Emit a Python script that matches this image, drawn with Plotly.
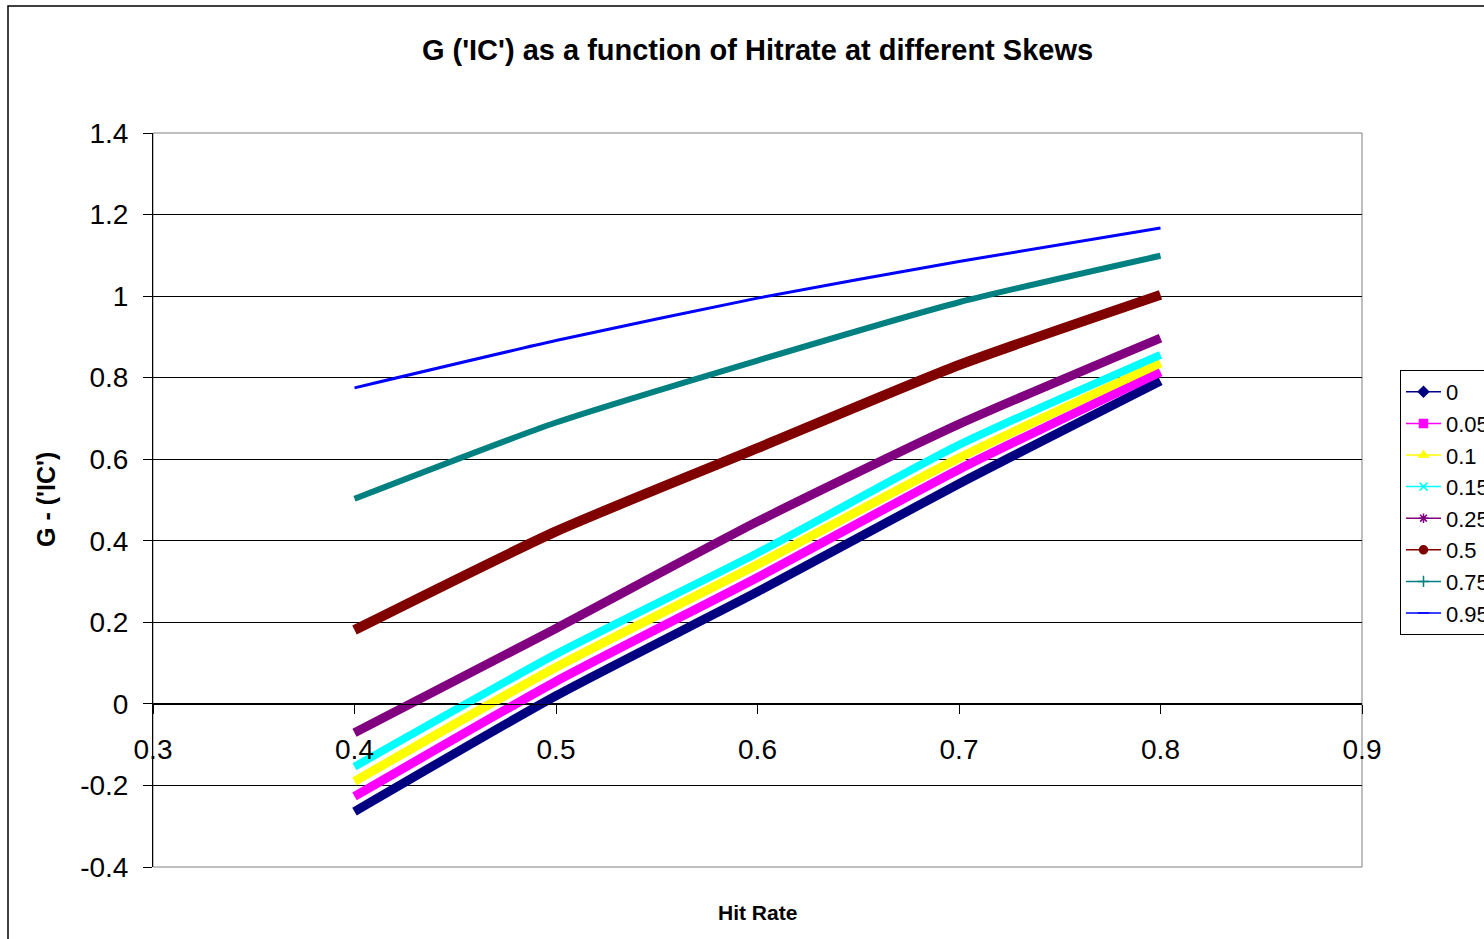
import plotly.graph_objects as go

# Hit rate sample positions (x axis)
hit_rate = [0.4, 0.5, 0.6, 0.7, 0.8]

# Skew series (legend names) and G ('IC') values
skews = ["0", "0.05", "0.1", "0.15", "0.25", "0.5", "0.75", "0.95"]
g_0 = [-0.264, 0.020, 0.275, 0.540, 0.792]
g_005 = [-0.227, 0.055, 0.310, 0.575, 0.814]
g_01 = [-0.190, 0.090, 0.342, 0.603, 0.836]
g_015 = [-0.154, 0.122, 0.370, 0.635, 0.856]
g_025 = [-0.071, 0.185, 0.447, 0.686, 0.897]
g_05 = [0.181, 0.423, 0.627, 0.831, 1.003]
g_075 = [0.503, 0.690, 0.842, 0.985, 1.099]
g_095 = [0.775, 0.891, 0.995, 1.085, 1.167]
series_values = [g_0, g_005, g_01, g_015, g_025, g_05, g_075, g_095]

# Axis ticks
x_ticks = [0.3, 0.4, 0.5, 0.6, 0.7, 0.8, 0.9]
x_tick_labels = ["0.3", "0.4", "0.5", "0.6", "0.7", "0.8", "0.9"]
y_ticks = [-0.4, -0.2, 0, 0.2, 0.4, 0.6, 0.8, 1.0, 1.2, 1.4]
y_tick_labels = ["-0.4", "-0.2", "0", "0.2", "0.4", "0.6", "0.8", "1", "1.2", "1.4"]

# Styles
colors = ["#000080", "#FF00FF", "#FFFF00", "#00FFFF", "#800080", "#800000", "#008080", "#0000FF"]
band_widths = [9, 9, 9, 8, 9, 10, 6, 3]
symbols = ["diamond", "square", "triangle-up", "x-thin-open", "asterisk-open", "circle", "cross-thin-open", "line-ew-open"]

FONT = "Liberation Sans, Arial, sans-serif"

fig = go.Figure()

for name, vals, col, w in zip(skews, series_values, colors, band_widths):
    fig.add_trace(go.Scatter(
        x=hit_rate, y=vals, mode="lines", name=name, showlegend=False,
        line=dict(color=col, width=w, shape="spline", smoothing=0.6),
        hoverinfo="x+y+name",
    ))

# legend entries (thin line + marker, as in the original legend)
for name, col, sym in zip(skews, colors, symbols):
    fig.add_trace(go.Scatter(
        x=[None], y=[None], mode="lines+markers", name=name,
        line=dict(color=col, width=1.5),
        marker=dict(color=col, symbol=sym, size=8, line=dict(color=col, width=1.5)),
    ))

W, H = 1484, 939
L, R, T, B = 153, 122, 133, 72
pw, ph = W - L - R, H - T - B

def px_x(p):
    return (p - L) / pw

def px_y(p):
    return (H - B - p) / ph

fig.update_layout(
    width=W, height=H,
    margin=dict(l=L, r=R, t=T, b=B, autoexpand=False),
    paper_bgcolor="white", plot_bgcolor="white",
    font=dict(family=FONT, color="black"),
    title=dict(text="<b>G ('IC') as a function of Hitrate at different Skews</b>",
               x=0.5, xref="paper", xanchor="center",
               y=1 - 50 / H, yref="container", yanchor="middle",
               font=dict(family=FONT, size=29, color="black")),
    xaxis=dict(range=[0.3, 0.9], tickvals=x_ticks, ticktext=x_tick_labels,
               showgrid=False, zeroline=False,
               showline=True, linecolor="black", linewidth=1,
               ticks="outside", ticklen=9, tickcolor="black", tickwidth=1,
               tickfont=dict(family=FONT, size=28, color="black"),
               ticklabelstandoff=12,
               anchor="free", position=0.4 / 1.8),
    yaxis=dict(range=[-0.4, 1.4], tickvals=y_ticks, ticktext=y_tick_labels,
               showgrid=True, gridcolor="black", gridwidth=1, zeroline=False,
               showline=True, linecolor="black", linewidth=1,
               ticks="outside", ticklen=9, tickcolor="black", tickwidth=1,
               tickfont=dict(family=FONT, size=28, color="black"),
               ticklabelstandoff=9),
    legend=dict(x=px_x(1400), y=px_y(370), xanchor="left", yanchor="top",
                bordercolor="black", borderwidth=1, bgcolor="white",
                font=dict(family=FONT, size=22, color="black"),
                itemwidth=35, tracegroupgap=0),
    shapes=[
        dict(type="rect", xref="paper", yref="paper", x0=0, y0=0, x1=1, y1=1,
             line=dict(color="#808080", width=1), layer="below"),
        dict(type="rect", xref="paper", yref="paper",
             x0=px_x(8), y0=px_y(1200), x1=px_x(1700), y1=px_y(6),
             line=dict(color="black", width=1.5), layer="below"),
    ],
    annotations=[
        dict(text="<b>G - ('IC')</b>", xref="paper", yref="paper",
             x=px_x(46), y=0.5, xanchor="center", yanchor="middle",
             textangle=-90, showarrow=False,
             font=dict(family=FONT, size=25, color="black")),
        dict(text="<b>Hit Rate</b>", xref="paper", yref="paper",
             x=0.5, y=px_y(912), xanchor="center", yanchor="middle",
             showarrow=False, font=dict(family=FONT, size=21, color="black")),
    ],
    showlegend=True,
)

fig.write_html("out.html", config={"displayModeBar": False},
               post_script="document.body.style.margin='0';")
